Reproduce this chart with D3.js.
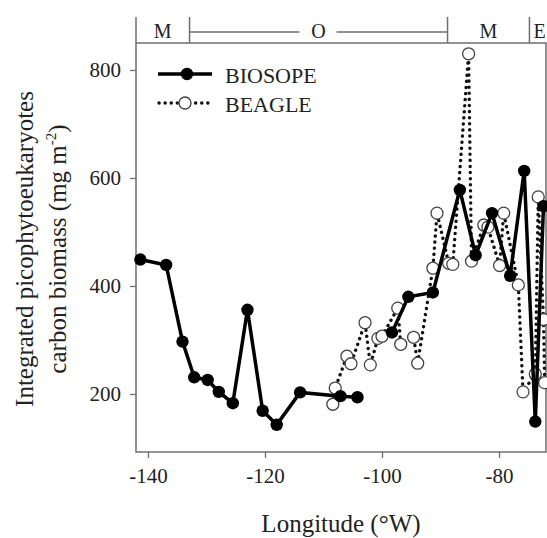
<!DOCTYPE html>
<html><head><meta charset="utf-8">
<script src="https://cdn.jsdelivr.net/npm/d3@7"></script>
<style>
body{margin:0;background:#fff;}
svg{display:block;}
svg text{font-family:"Liberation Serif","Times New Roman",serif !important;fill:#222;}
</style></head>
<body>
<svg id="chart" width="547" height="538"></svg>
<script>
// ---- data ----
const biosopeLon = [-141.3,-136.9,-134.1,-132.1,-129.8,-127.9,-125.5,-123.0,-120.4,-118.0,-114.0,-107.1,-104.2,null,-98.3,-95.5,-91.3,-86.7,-84.0,-81.2,-78.1,-75.7,-73.8,-72.4];
const biosopeVal = [449,439,297,231,226,204,183,356,169,143,203,196,194,null,314,380,388,578,457,535,419,613,149,548];
const beagleLon = [-108.4,-108.0,-106.0,-105.3,-102.9,-102.0,-100.7,-100.0,-97.3,-96.8,-94.6,-93.9,-91.3,-90.6,-88.6,-87.9,-85.2,-84.7,-82.6,-81.9,-79.9,-79.2,-76.7,-75.9,-73.8,-73.3,-72.4,-72.2];
const beagleVal = [181,211,270,256,332,254,303,307,359,292,305,257,433,535,442,440,830,446,513,509,438,535,402,204,237,565,338,221];
const xTicks = [-140,-120,-100,-80];
const yTicks = [200,400,600,800];
const zoneLabels = ["M","O","M","E"];
const zoneBounds = [-142.05,-132.9,-88.8,-74.8,-71.97];
const seriesNames = ["BIOSOPE","BEAGLE"];

// ---- layout ----
const FONT = "'Liberation Serif','Times New Roman',serif";
const svg = d3.select("#chart");
const L=136, R=546, T=43, B=452;
const x = d3.scaleLinear().domain([-142.05,-71.97]).range([L,R]);
const y = d3.scaleLinear().domain([92.6,850]).range([B,T]);
const grey = "#6f6f6f";

// frame
svg.append("rect").attr("x",L).attr("y",T).attr("width",R-L).attr("height",B-T)
  .attr("fill","none").attr("stroke",grey).attr("stroke-width",1.5);

// axes
const xAxis = svg.append("g").attr("transform",`translate(0,${B})`)
  .call(d3.axisBottom(x).tickValues(xTicks).tickSize(6).tickPadding(10).tickFormat(d3.format("d")));
const yAxis = svg.append("g").attr("transform",`translate(${L},0)`)
  .call(d3.axisLeft(y).tickValues(yTicks).tickSize(6).tickPadding(9).tickFormat(d3.format("d")));
[xAxis,yAxis].forEach(g=>{
  g.attr("font-family",FONT).attr("font-size",21);
  g.select(".domain").remove();
  g.selectAll(".tick line").attr("stroke",grey).attr("stroke-width",1.3);
  g.selectAll(".tick text").attr("font-family",FONT).attr("font-size",21).attr("fill","#222");
});
xAxis.selectAll(".tick text").text(d=>d<0?"-"+Math.abs(d):d);

// axis titles
svg.append("text").attr("x",341).attr("y",532).attr("text-anchor","middle")
  .style("font-size","25px").text("Longitude (\u00B0W)");
const yt = svg.append("text").attr("transform","translate(33,249) rotate(-90)")
  .attr("text-anchor","middle").style("font-size","25px");
yt.append("tspan").attr("x",0).attr("y",0).text("Integrated picophytoeukaryotes");
const l2 = svg.append("text").attr("transform","translate(66,249) rotate(-90)")
  .attr("text-anchor","middle").style("font-size","25px");
l2.append("tspan").text("carbon biomass (mg m");
l2.append("tspan").attr("dy",-10).style("font-size","15px").text("-2");
l2.append("tspan").attr("dy",10).text(")");

// zone band
const bandTop = 17, bandY = 32;
zoneBounds.slice(0,4).forEach(b=>{
  svg.append("line").attr("x1",x(b)).attr("x2",x(b)).attr("y1",bandTop).attr("y2",T)
    .attr("stroke",grey).attr("stroke-width",1.5);
});
zoneLabels.forEach((lab,i)=>{
  const a=zoneBounds[i], b=zoneBounds[i+1];
  const cx = lab==="E" ? x(a)+4 : (x(a)+x(b))/2;
  svg.append("text").attr("x",cx).attr("y",38).attr("text-anchor",lab==="E"?"start":"middle")
    .style("font-size","20px").text(lab);
  if(lab==="O"){
    svg.append("line").attr("x1",x(a)).attr("x2",cx-19).attr("y1",bandY).attr("y2",bandY).attr("stroke",grey).attr("stroke-width",1.3);
    svg.append("line").attr("x1",cx+18).attr("x2",x(b)).attr("y1",bandY).attr("y2",bandY).attr("stroke",grey).attr("stroke-width",1.3);
  }
});

const plot = svg.append("g");

// BEAGLE
const beagle = beagleLon.map((d,i)=>({lon:d,v:beagleVal[i]}));
const lineB = d3.line().x(d=>x(d.lon)).y(d=>y(d.v));
plot.append("path").datum(beagle).attr("d",lineB).attr("fill","none")
  .attr("stroke","#111").attr("stroke-width",3.4).attr("stroke-linecap","round")
  .attr("stroke-dasharray","0.1 6");
plot.selectAll("circle.beagle").data(beagle).join("circle").attr("class","beagle")
  .attr("cx",d=>x(d.lon)).attr("cy",d=>y(d.v)).attr("r",6)
  .attr("fill","#fff").attr("stroke","#444").attr("stroke-width",1.3);

// BIOSOPE
const bio = biosopeLon.map((d,i)=>({lon:d,v:biosopeVal[i]}));
const lineS = d3.line().defined(d=>d.lon!==null&&d.v!==null).x(d=>x(d.lon)).y(d=>y(d.v));
plot.append("path").datum(bio).attr("d",lineS).attr("fill","none")
  .attr("stroke","#000").attr("stroke-width",3.5).attr("stroke-linejoin","miter");
plot.selectAll("circle.bio").data(bio.filter(d=>d.lon!==null)).join("circle").attr("class","bio")
  .attr("cx",d=>x(d.lon)).attr("cy",d=>y(d.v)).attr("r",6.2).attr("fill","#000");

// legend
const lg = svg.append("g");
lg.append("line").attr("x1",158).attr("x2",212).attr("y1",74).attr("y2",74).attr("stroke","#000").attr("stroke-width",3.5);
lg.append("circle").attr("cx",187).attr("cy",74).attr("r",6.2).attr("fill","#000");
lg.append("line").attr("x1",159).attr("x2",212).attr("y1",103).attr("y2",103).attr("stroke","#111")
  .attr("stroke-width",3.4).attr("stroke-linecap","round").attr("stroke-dasharray","0.1 6");
lg.append("circle").attr("cx",185).attr("cy",103).attr("r",6).attr("fill","#fff").attr("stroke","#444").attr("stroke-width",1.3);
lg.append("text").attr("x",225).attr("y",83).style("font-size","22px").text(seriesNames[0]);
lg.append("text").attr("x",225).attr("y",112).style("font-size","22px").text(seriesNames[1]);
</script>
</body></html>
